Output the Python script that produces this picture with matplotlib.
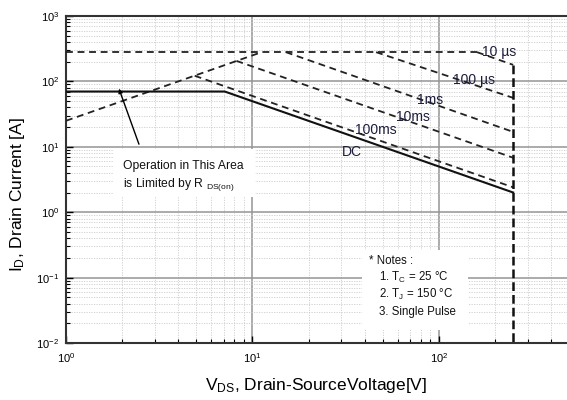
import matplotlib
matplotlib.use('Agg')
import matplotlib.pyplot as plt
from matplotlib.patches import Rectangle

plt.rcParams['font.family'] = ['Liberation Sans', 'DejaVu Sans']
plt.rcParams['mathtext.default'] = 'regular'

# ---- data ----
# R_DS(on) limit line (V, A)
rds_v = [1, 11.2]
rds_i = [25, 280]
# I_DM pulsed current limit
idm_v = [1, 160]
idm_i = [280, 280]
# SOA boundaries per pulse width
pulse_names = ['10 µs', '100 µs', '1ms', '10ms', '100ms', 'DC']
pulse_v = [[160, 250], [46, 250], [15.1, 250], [8.2, 250], [4.9, 250], [1, 7.1, 250]]
pulse_i = [[280, 179], [280, 56], [280, 16.9], [206, 6.8], [122, 2.4], [70, 70, 2.0]]
label_v = [170, 119, 76, 59, 35.4, 30.2]
label_i = [282, 105, 52, 28.7, 18.2, 8.4]
# V_DSS limit
vdss_v = [250, 250]
vdss_i = [179, 0.01]
# annotation arrow (tail, head)
arrow_v = [2.49, 1.9]
arrow_i = [10, 85]

notes = ['* Notes :', r'1. T$_C$ = 25 °C', r'2. T$_J$ = 150 °C', '3. Single Pulse']

fig = plt.figure(figsize=(5.67, 4.0), dpi=100)
ax = fig.add_axes([66 / 567, 57 / 400, 501 / 567, 327 / 400])
ax.set_xscale('log')
ax.set_yscale('log')
ax.set_xlim(1, 486)
ax.set_ylim(0.01, 1000)

ax.grid(which='major', color='#959595', lw=1.1, ls='-')
ax.grid(which='minor', color='#cccccc', lw=0.6, ls=(0, (1.5, 1.5)))

dash = (0, (3.8, 2.6))
lw = 1.3
ax.plot(rds_v, rds_i, color='#222', lw=lw, ls=dash, zorder=3)
ax.plot(idm_v, idm_i, color='#222', lw=lw, ls=dash, zorder=3)
for name, vv, ii in zip(pulse_names, pulse_v, pulse_i):
    if name == 'DC':
        ax.plot(vv, ii, color='#111', lw=1.5, ls='-', zorder=3)
    else:
        ax.plot(vv, ii, color='#222', lw=lw, ls=dash, zorder=3)
ax.plot(vdss_v, vdss_i, color='#111', lw=1.8, ls=(0, (3.5, 1.6)), zorder=3)

for name, lv, li in zip(pulse_names, label_v, label_i):
    ax.text(lv, li, name, ha='left', va='center', fontsize=10, color='#1c1c3c', zorder=4)

# Operation area annotation
ax.add_patch(Rectangle((0.094, 0.446), 0.283, 0.147, transform=ax.transAxes,
                       fc='white', ec='none', zorder=2))
ax.text(0.114, 0.541, 'Operation in This Area', transform=ax.transAxes,
        ha='left', va='center', fontsize=8.7, color='#111', zorder=4)
ax.text(0.114, 0.486, r'is Limited by R $_{DS(on)}$', transform=ax.transAxes,
        ha='left', va='center', fontsize=8.7, color='#111', zorder=4)
ax.annotate('', xy=(arrow_v[1], arrow_i[1]), xytext=(arrow_v[0], arrow_i[0]),
            arrowprops=dict(arrowstyle='-|>', color='black', lw=1.0, mutation_scale=6),
            zorder=4)

# Notes box
ax.add_patch(Rectangle((0.591, 0.04), 0.211, 0.244, transform=ax.transAxes,
                       fc='white', ec='none', zorder=2))
for k, line in enumerate(notes):
    ax.text(0.605 if k == 0 else 0.625, 0.251 - 0.052 * k, line, transform=ax.transAxes,
            ha='left', va='center', fontsize=8.3, color='#111', zorder=4)

for s in ['left', 'bottom', 'top']:
    ax.spines[s].set_linewidth(1.5)
    ax.spines[s].set_color('#333')
ax.spines['right'].set_visible(False)
ax.tick_params(which='both', direction='in', labelsize=8, top=False, right=False)
ax.tick_params(which='major', length=5, width=1)
ax.tick_params(which='minor', length=3, width=0.8)
ax.tick_params(axis='x', pad=6)
ax.tick_params(axis='y', pad=5)

ax.text(0.5, -0.10, r'$V_{DS}$, Drain-SourceVoltage[V]', transform=ax.transAxes,
        ha='center', va='top', fontsize=12.5)
ax.text(-0.096, 0.453, r'$I_D$, Drain Current [A]', transform=ax.transAxes,
        rotation=90, ha='center', va='center', fontsize=12.5)

fig.savefig('out.png', dpi=100)
